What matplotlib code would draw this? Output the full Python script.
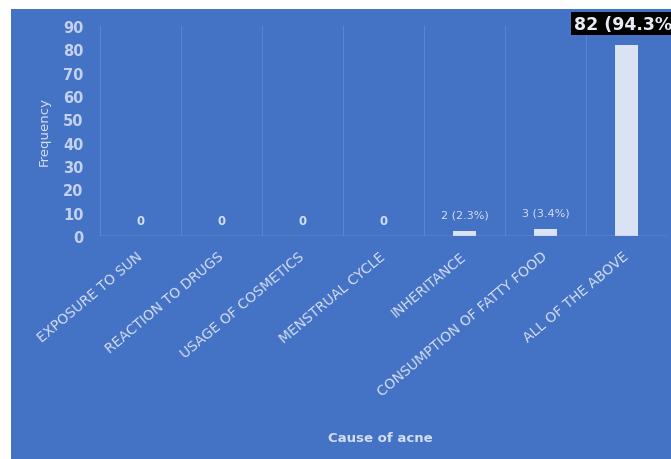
import numpy as np
import matplotlib.pyplot as plt
from matplotlib.patches import Rectangle

causes = ['EXPOSURE TO SUN', 'REACTION TO DRUGS', 'USAGE OF COSMETICS',
          'MENSTRUAL CYCLE', 'INHERITANCE', 'CONSUMPTION OF FATTY FOOD',
          'ALL OF THE ABOVE']
freq = [0, 0, 0, 0, 2, 3, 82]
total = 87
yticks = [0, 10, 20, 30, 40, 50, 60, 70, 80, 90]

bg = '#4472C4'
bar_col = '#dae3f3'
txt = '#d4def2'

fig = plt.figure(figsize=(6.71, 4.60), dpi=100)
fig.patches.append(Rectangle((11 / 671, 0), 1, 1 - 10 / 460, transform=fig.transFigure,
                             facecolor=bg, edgecolor='none', zorder=-1))
ax = fig.add_axes([100 / 671, 1 - 237 / 460, 567 / 671, 210 / 460])
ax.set_facecolor(bg)

x = np.arange(len(causes))
ax.bar(x, freq, width=0.28, color=bar_col, zorder=3)
ax.set_xlim(-0.5, len(causes) - 0.5)
ax.set_ylim(0, 90)

# vertical separators between categories
for b in np.arange(len(causes) + 1) - 0.5:
    ax.axvline(b, color='#5a84cf', lw=0.8, zorder=1)
ax.axhline(0, color='#8fabdf', lw=1, zorder=4)

for s in ax.spines.values():
    s.set_visible(False)

ax.set_yticks(yticks)
ax.set_yticklabels([str(t) for t in yticks], fontsize=10.5, fontweight='bold', color='#c3d1ee')
ax.tick_params(axis='y', length=0, pad=12)
ax.set_xticks(x)
ax.set_xticklabels(causes, rotation=40, ha='right', va='center', rotation_mode='anchor',
                   fontsize=10, color=txt)
ax.tick_params(axis='x', length=0, pad=13)

ax.set_ylabel('Frequency', fontsize=9.5, color=txt, labelpad=9)
ax.set_xlabel('Cause of acne', fontsize=9.5, fontweight='bold', color=txt)
ax.xaxis.set_label_coords(0.495, -0.93)

for xi, v in zip(x, freq):
    if v == 0:
        ax.annotate('0', (xi, v), xytext=(0, 11), textcoords='offset points',
                    ha='center', va='center', fontsize=8.5, fontweight='bold', color=txt)
    elif v < 50:
        ax.annotate(f'{v} ({v / total * 100:.1f}%)', (xi, v), xytext=(0, 12),
                    textcoords='offset points', ha='center', va='center',
                    fontsize=8, color=txt)
    else:
        ax.annotate(f'{v} ({v / total * 100:.1f}%)', (xi, v), xytext=(0, 15),
                    textcoords='offset points', ha='center', va='center',
                    fontsize=12.5, fontweight='bold', color='#e8ecf5', annotation_clip=False,
                    bbox=dict(boxstyle='square,pad=0.15', fc='black', ec='none'))

fig.savefig('out.png', dpi=100)
